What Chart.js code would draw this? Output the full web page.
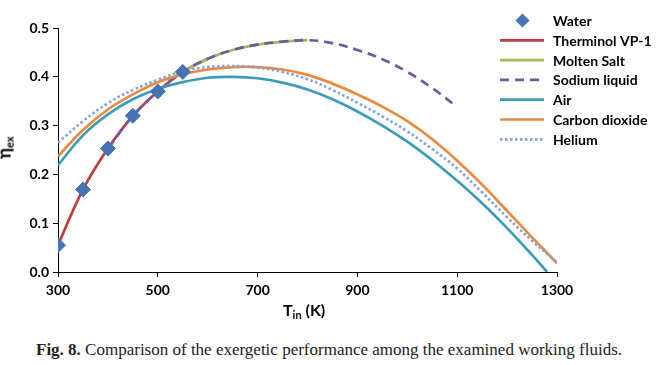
<!DOCTYPE html>
<html>
<head>
<meta charset="utf-8">
<script src="https://cdn.jsdelivr.net/npm/chart.js@4"></script>
<style>
  body { margin: 0; background: #fff; }
  #wrap { position: relative; width: 658px; height: 365px; overflow: hidden; }
  #plot { position: absolute; left: 0; top: 0; width: 658px; height: 320px; }
  .ytitle { position: absolute; left: -7px; top: 136px; transform: rotate(-90deg); font: bold 18px Lato, sans-serif; color: #000; }
  .xtitle { position: absolute; left: 283px; top: 300px; font: bold 16px Lato, sans-serif; color: #000; }
  sub { font-size: 11px; vertical-align: -3px; }
  .caption { position: absolute; left: 36px; top: 340px; font: 17px "Liberation Serif", serif; color: #222; white-space: nowrap; }
</style>
</head>
<body>
<div id="wrap">
  <div id="plot"><canvas id="exChart"></canvas></div>
  <div class="ytitle">η<sub>ex</sub></div>
  <div class="xtitle">T<sub>in</sub> (K)</div>
  <div class="caption"><b>Fig. 8.</b> Comparison of the exergetic performance among the examined working fluids.</div>
</div>
<script>
// inlet temperatures (K) and exergetic efficiency for each fluid
var waterT = [300, 350, 400, 450, 500, 550];
var waterEff = [0.055, 0.169, 0.253, 0.320, 0.370, 0.410];
var therminolT = [300, 350, 400, 450, 500, 550, 600];
var therminolEff = [0.055, 0.169, 0.253, 0.320, 0.370, 0.410, 0.437];
var moltenT = [550, 600, 650, 700, 750, 800];
var moltenEff = [0.410, 0.437, 0.455, 0.466, 0.472, 0.475];
var sodiumT = [400, 450, 500, 550, 600, 650, 700, 750, 800, 850, 900, 950, 1000, 1050, 1100];
var sodiumEff = [0.253, 0.320, 0.370, 0.410, 0.437, 0.455, 0.466, 0.472, 0.475, 0.469, 0.455, 0.436, 0.410, 0.377, 0.338];
var gasT = [300, 350, 400, 450, 500, 550, 600, 650, 700, 750, 800, 850, 900, 950, 1000, 1050, 1100, 1150, 1200, 1250, 1300];
var airT = [300, 350, 400, 450, 500, 550, 600, 650, 700, 750, 800, 850, 900, 950, 1000, 1050, 1100, 1150, 1200, 1250, 1280];
var airEff = [0.219, 0.280, 0.323, 0.354, 0.375, 0.389, 0.398, 0.400, 0.397, 0.388, 0.374, 0.354, 0.329, 0.300, 0.267, 0.229, 0.187, 0.141, 0.090, 0.035, 0.0];
var co2Eff = [0.237, 0.291, 0.333, 0.364, 0.389, 0.405, 0.415, 0.420, 0.420, 0.415, 0.404, 0.386, 0.364, 0.339, 0.309, 0.272, 0.228, 0.179, 0.125, 0.071, 0.018];
var heliumEff = [0.265, 0.309, 0.346, 0.373, 0.394, 0.411, 0.420, 0.422, 0.419, 0.410, 0.395, 0.373, 0.347, 0.319, 0.288, 0.252, 0.212, 0.163, 0.112, 0.064, 0.020];
var xTicks = [300, 500, 700, 900, 1100, 1300];
var yTicks = [0.0, 0.1, 0.2, 0.3, 0.4, 0.5];

function pts(xs, ys) {
    return xs.map(function(x, i) { return { x: x, y: ys[i] }; });
}

function lineSet(label, xs, ys, color, order, dash) {
    return {
        label: label,
        data: pts(xs, ys),
        borderColor: color,
        backgroundColor: color,
        borderWidth: 2.7,
        borderDash: dash || [],
        pointRadius: 0,
        tension: 0.4,
        fill: false,
        order: order
    };
}

// custom legend, drawn over the right part of the plot like the original
var legendPlugin = {
    id: 'sideLegend',
    afterDraw: function(chart) {
        var c = chart.ctx;
        c.save();
        chart.data.datasets.forEach(function(ds, i) {
            var y = 20.5 + 19.8 * i;
            if (ds.showLine === false) {
                c.fillStyle = ds.backgroundColor;
                c.beginPath();
                c.moveTo(522.5, y - 7); c.lineTo(529.5, y); c.lineTo(522.5, y + 7); c.lineTo(515.5, y);
                c.closePath(); c.fill();
            } else {
                c.strokeStyle = ds.borderColor;
                c.lineWidth = ds.borderWidth;
                c.setLineDash(ds.borderDash);
                c.beginPath(); c.moveTo(500, y); c.lineTo(544, y); c.stroke();
                c.setLineDash([]);
            }
            c.fillStyle = '#000';
            c.font = 'bold 14px Lato, sans-serif';
            c.textBaseline = 'middle';
            c.fillText(ds.label, 553, y + 1);
        });
        c.restore();
    }
};

Chart.defaults.font.family = 'Lato, sans-serif';
Chart.defaults.color = '#000';

new Chart(document.getElementById('exChart'), {
    type: 'line',
    data: {
        datasets: [
            {
                label: 'Water',
                data: pts(waterT, waterEff),
                showLine: false,
                pointStyle: 'rectRot',
                pointRadius: 7.5,
                pointBackgroundColor: '#4574b3',
                pointBorderColor: '#4574b3',
                backgroundColor: '#4574b3',
                borderColor: '#4574b3',
                order: 0
            },
            lineSet('Therminol VP-1', therminolT, therminolEff, '#b9413d', 6),
            lineSet('Molten Salt', moltenT, moltenEff, '#9dbd5b', 5),
            lineSet('Sodium liquid', sodiumT, sodiumEff, '#7457a0', 4, [9, 6]),
            lineSet('Air', airT, airEff, '#3c9db6', 3),
            lineSet('Carbon dioxide', gasT, co2Eff, '#ea8a3d', 2),
            lineSet('Helium', gasT, heliumEff, '#86a3d8', 1, [2.5, 2.5])
        ]
    },
    options: {
        responsive: true,
        maintainAspectRatio: false,
        animation: false,
        layout: { padding: { left: 0, right: 101, top: 28, bottom: 0 } },
        plugins: { legend: { display: false }, tooltip: { enabled: false } },
        scales: {
            x: {
                type: 'linear', min: 300, max: 1300,
                afterFit: function(s) { s.height = 48; },
                afterBuildTicks: function(s) { s.ticks = xTicks.map(function(v) { return { value: v }; }); },
                grid: { display: true, drawOnChartArea: false, drawTicks: true, tickLength: 5, color: '#000' },
                border: { color: '#000', width: 1 },
                ticks: { padding: 5, font: { size: 14, weight: 'bold' }, maxRotation: 0, callback: function(v) { return String(v); } }
            },
            y: {
                min: 0, max: 0.5,
                afterFit: function(s) { s.width = 58; },
                afterBuildTicks: function(s) { s.ticks = yTicks.map(function(v) { return { value: v }; }); },
                grid: { display: true, drawOnChartArea: false, drawTicks: true, tickLength: 5, color: '#000' },
                border: { color: '#000', width: 1 },
                ticks: { padding: 4, font: { size: 14, weight: 'bold' }, callback: function(v) { return v.toFixed(1); } }
            }
        }
    },
    plugins: [legendPlugin]
});
</script>
</body>
</html>
